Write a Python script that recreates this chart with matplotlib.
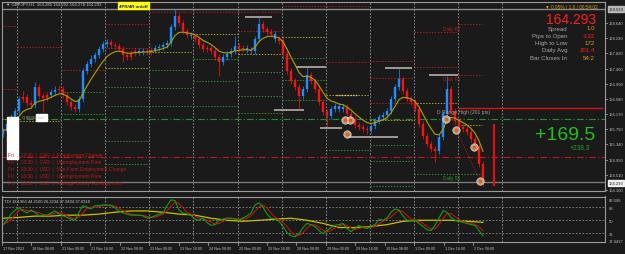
import numpy as np
import pandas as pd
import matplotlib
matplotlib.use("Agg")
import matplotlib.pyplot as plt

plt.rcParams["font.family"] = ["Liberation Sans", "DejaVu Sans"]

W, H = 625, 255
BG = "#1a1a1a"
PX_PER_BAR = 1.84

# price columns (each ~2 H1 bars)
closes = [165.71, 165.90, 166.09, 166.25, 166.58, 166.63, 166.47, 166.41, 166.90, 166.66,
          166.60, 166.68, 166.77, 166.82, 166.85, 166.68, 166.49, 166.35, 166.30, 166.58,
          167.34, 167.53, 167.66, 167.77, 167.93, 168.07, 168.12, 168.04, 168.02, 167.93,
          167.77, 167.72, 167.82, 167.88, 167.85, 167.88, 167.85, 167.91, 167.96, 167.99,
          168.04, 168.10, 168.53, 168.83, 168.64, 168.42, 168.31, 168.29, 168.21, 168.04,
          167.93, 167.96, 167.88, 167.72, 167.58, 167.72, 167.80, 167.88, 168.02, 167.93,
          167.96, 167.91, 167.88, 168.21, 168.61, 168.48, 168.40, 168.34, 168.21, 168.15,
          167.80, 167.34, 167.06, 166.90, 166.66, 166.85, 167.23, 167.06, 166.85, 166.49,
          166.22, 166.11, 166.30, 166.38, 166.30, 166.36, 166.17, 166.03, 165.87, 165.81,
          165.76, 165.73, 165.84, 165.98, 166.09, 166.14, 166.25, 166.58, 166.90, 167.12,
          166.79, 166.58, 166.49, 166.30, 165.90, 165.57, 165.35, 165.22, 165.16, 165.54,
          166.17, 166.85, 166.25, 165.98, 165.81, 165.76, 165.68, 165.49, 165.27, 164.81,
          164.29]
highs = [165.79, 165.98, 166.17, 166.33, 166.66, 166.79, 166.71, 166.55, 167.04, 166.98,
         166.74, 166.76, 166.85, 166.92, 166.96, 166.93, 166.76, 166.57, 166.43, 166.66,
         167.42, 167.61, 167.76, 167.85, 168.01, 168.15, 168.21, 168.20, 168.12, 168.10,
         168.01, 167.85, 167.90, 167.96, 167.96, 167.96, 167.96, 167.99, 168.04, 168.07,
         168.12, 168.18, 168.61, 169.02, 168.91, 168.72, 168.50, 168.39, 168.37, 168.29,
         168.12, 168.04, 168.04, 167.96, 167.80, 167.80, 167.88, 167.96, 168.29, 168.10,
         168.04, 168.04, 167.99, 168.29, 168.80, 168.69, 168.56, 168.48, 168.42, 168.29,
         168.23, 167.88, 167.42, 167.14, 166.98, 166.93, 167.44, 167.31, 167.14, 166.93,
         166.57, 166.30, 166.38, 166.46, 166.46, 166.44, 166.44, 166.25, 166.11, 165.95,
         165.89, 165.84, 165.92, 166.06, 166.17, 166.22, 166.33, 166.66, 166.98, 167.39,
         167.20, 166.87, 166.66, 166.57, 166.38, 165.98, 165.65, 165.43, 165.30, 165.62,
         166.25, 167.20, 166.93, 166.33, 166.06, 165.89, 165.84, 165.76, 165.57, 165.35,
         164.89]
lows = [165.55, 165.63, 165.82, 166.01, 166.17, 166.50, 166.39, 166.33, 166.33, 166.58,
        166.22, 166.52, 166.60, 166.69, 166.74, 166.60, 166.41, 166.27, 166.22, 166.22,
        166.50, 167.26, 167.45, 167.58, 167.69, 167.85, 167.99, 167.96, 167.94, 167.85,
        167.58, 167.64, 167.64, 167.74, 167.77, 167.77, 167.77, 167.77, 167.83, 167.88,
        167.91, 167.96, 168.02, 168.45, 168.56, 168.34, 168.23, 168.21, 168.13, 167.96,
        167.85, 167.85, 167.80, 167.64, 167.20, 167.50, 167.64, 167.72, 167.80, 167.85,
        167.85, 167.83, 167.80, 167.80, 168.13, 168.40, 168.32, 168.26, 168.13, 168.07,
        167.72, 167.26, 166.98, 166.82, 166.30, 166.58, 166.77, 166.98, 166.77, 166.41,
        166.14, 165.84, 166.03, 166.22, 166.22, 166.22, 166.09, 165.95, 165.79, 165.73,
        165.68, 165.62, 165.65, 165.76, 165.90, 166.01, 166.06, 166.17, 166.50, 166.82,
        166.71, 166.50, 166.41, 166.22, 165.82, 165.49, 165.27, 165.14, 164.86, 165.08,
        165.46, 166.09, 166.17, 165.90, 165.73, 165.68, 165.60, 165.41, 165.19, 164.73,
        164.21]
first_open = 165.62
trend = ("11111 000 1 000 11 00000 11111111 0000000 11 00 111111 000 1 0000000 1111 00 "
         "1111 000 1 000000 11 00000 1111 000000 11111111 000000000 111 000000000")
trend_up = [c == "1" for c in trend.replace(" ", "")]

# TDI (green price line per column, yellow base line every 4 columns)
tdi_green = [44, 50, 58.5, 64, 67, 63, 60, 64, 61, 56, 57, 57, 60, 63, 58.5, 56, 54, 51.5, 50, 61,
             70, 68, 65.5, 70, 70, 71, 71, 70, 67, 63, 60, 58.5, 57, 57, 57, 56, 53, 54, 56, 58.5,
             60, 70, 78, 77, 64, 60, 58.5, 57, 51.5, 50, 53, 47, 43, 44, 50, 51.5, 53, 53, 51.5, 50,
             53, 56, 60, 71, 74, 68, 58.5, 53, 51.5, 48.5, 41.5, 33, 28.7, 27.3, 31.6, 40, 45.7, 44,
             41.5, 36, 31.6, 36, 40, 43, 44, 45.7, 38.7, 34.4, 38.7, 43, 40, 38.7, 41.5, 44, 51.5,
             50, 53, 61, 65.5, 64, 56, 50, 50, 50, 45.7, 41.5, 37, 35.8, 43, 53, 63, 61, 54, 50,
             48.5, 47, 45.7, 44, 43, 36, 28.7]
tdi_yellow = [52.8, 54, 55.7, 55.7, 57, 57, 58.5, 61, 62.8, 62.8, 61, 58.5, 57, 52.8, 50, 48.6,
              50, 51.5, 52.8, 50, 45.7, 40, 40, 41.5, 44, 48.6, 50, 50, 50, 48.6, 47.1]

# daily pivot levels: day index, price, kind
day_start = [0, 8, 32, 56, 80, 104, 128, 152, 176, 200, 224, 248]
day_end = [8, 32, 56, 80, 104, 128, 152, 176, 200, 224, 248, 261]
piv_day = [0, 0, 1, 1, 2, 2, 2, 3, 3, 3, 3, 3, 3, 3, 4, 4, 4, 4, 4, 5, 5, 5, 5, 5,
           6, 6, 6, 6, 6, 6, 7, 7, 7, 7, 7, 8, 8, 8, 8, 8, 9, 9, 9, 9, 9, 9, 9,
           10, 10, 10, 10, 11, 11, 11, 11]
piv_price = [168.56, 166.85, 167.99, 165.98, 167.36, 166.76, 166.17, 168.61, 167.96, 167.42, 166.90, 166.38, 165.43, 164.81,
             168.94, 167.85, 167.36, 166.87, 166.38,
             168.94, 168.34, 167.66, 167.06, 166.38,
             168.94, 168.42, 167.80, 167.31, 166.66, 166.19,
             169.10, 168.26, 167.69, 167.09, 166.55,
             169.10, 167.58, 166.68, 165.19, 164.32,
             167.61, 167.15, 166.47, 166.00, 165.33, 164.89, 164.21,
             168.39, 167.44, 166.47, 164.54,
             168.61, 167.23, 165.87, 164.54]
piv_kind = ["r", "r", "r", "y", "r", "g", "g", "r", "r", "y", "g", "g", "g", "g",
            "r", "y", "g", "g", "g",
            "r", "y", "g", "g", "g",
            "r", "r", "y", "g", "g", "g",
            "r", "y", "g", "g", "g",
            "r", "r", "y", "g", "g",
            "r", "r", "r", "y", "g", "g", "g",
            "r", "r", "y", "g",
            "r", "r", "y", "g"]

# swing high/low marks (bar start, bar end, price)
swing_x0 = [132, 148, 160, 173, 188, 208, 232]
swing_x1 = [147, 164, 176, 185, 215, 223, 248]
swing_p = [168.80, 166.28, 167.44, 165.80, 165.54, 167.42, 167.23]

# trade circles
mark_x = [186.4, 189.1, 187.5, 241.3, 246.7, 256.5, 259.8]
mark_p = [166.00, 166.00, 165.62, 166.03, 165.73, 165.27, 164.35]

axis_prices = [168.640, 168.230, 167.820, 167.400, 166.990, 166.580, 166.170,
               165.750, 165.340, 164.930, 164.510, 164.100]
date_labels = ["17 Nov 2022", "18 Nov 08:00", "21 Nov 00:00", "21 Nov 16:00", "22 Nov 08:00",
               "23 Nov 00:00", "23 Nov 16:00", "24 Nov 08:00", "25 Nov 00:00", "25 Nov 16:00",
               "28 Nov 08:00", "29 Nov 00:00", "29 Nov 16:00", "30 Nov 08:00", "1 Dec 00:00",
               "1 Dec 16:00", "2 Dec 08:00"]
news = ["Fri  :  13:30  |  CAD  |  Employment Change",
        "Fri  :  13:30  |  CAD  |  Unemployment Rate",
        "Fri  :  13:30  |  USD  |  Non-Farm Employment Change",
        "Fri  :  13:30  |  USD  |  Unemployment Rate",
        "Fri  :  13:30  |  USD  |  Average Hourly Earnings m/m"]
info_names = ["Spread", "Pips to Open", "High to Low", "Daily Avg", "Bar Closes In"]
info_vals = ["1.0", "-132", "172", "201.4", "54:2"]
info_cols = ["#e0a000", "#ff2020", "#e0a000", "#ff2020", "#e0a000"]

n = len(closes)
col_x = (1 + 4 * np.arange(n)) / PX_PER_BAR
opens = [first_open] + closes[:-1]
ma = pd.Series(closes).ewm(span=7, adjust=False).mean()

fig = plt.figure(figsize=(W / 100, H / 100), dpi=100)
fig.patch.set_facecolor(BG)


def px_rect(x0, y0, x1, y1):
    return [x0 / W, 1 - y1 / H, (x1 - x0) / W, (y1 - y0) / H]


ax = fig.add_axes(px_rect(2, 3, 605, 192))
ax.set_facecolor(BG)
ymin = 169.292 - 0.02717 * 192
ymax = 169.292 - 0.02717 * 3
ax.set_xlim(0, 603 / PX_PER_BAR)
ax.set_ylim(ymin, ymax)
for s in ax.spines.values():
    s.set_color("#9a9a9a")
    s.set_linewidth(0.8)
ax.set_xticks([])
ax.set_yticks([])

for d in range(12):
    ax.axvline(8 + 24 * d, color="#9a9a9a", lw=0.6, ls=(0, (2, 2)), zorder=1)

kind_col = {"r": "#b01818", "y": "#a8a020", "g": "#2a8a2a"}
for d, p, k in zip(piv_day, piv_price, piv_kind):
    ax.hlines(p, day_start[d], day_end[d], color=kind_col[k], lw=0.7, ls=(0, (1.5, 1.5)), zorder=1)

ax.axhline(166.03, color="#20902a", lw=0.8, ls=(0, (6, 2, 1, 2)), zorder=1)
ax.axhline(165.00, color="#c01818", lw=0.8, ls=(0, (6, 2, 1, 2)), zorder=1)
ax.axhline(169.03, color="#8a8a8a", lw=1.0, zorder=1)
ax.axhline(164.32, color="#7a7a7a", lw=1.0, zorder=1)

ax.hlines(swing_p, swing_x0, swing_x1, color="#b8b0a8", lw=1.2, zorder=3)
ax.hlines(166.68, 181.5, 193, color="#d8c8a0", lw=1.0, ls=(0, (1, 1)), zorder=3)
ax.hlines(166.33, 247.8, 326.6, color="#e01010", lw=1.0, zorder=3)
ax.plot([241.8, 258.7], [166.30, 164.46], color="#c01818", lw=0.7, ls=(0, (1, 1.5)), zorder=3)
ax.vlines(267.4, 164.21, 165.90, color="#e01010", lw=1.6, zorder=3)

for x, o, c, hi, lo, up in zip(col_x, opens, closes, highs, lows, trend_up):
    col = "#1e8fff" if up else "#ff1010"
    ax.vlines(x, lo, hi, color=col, lw=0.5, zorder=4)
    b0, b1 = min(o, c), max(o, c)
    if b1 - b0 < 0.03:
        b1 = b0 + 0.03
    ax.vlines(x, b0, b1, color=col, lw=1.7, zorder=4)
ax.plot(col_x, ma, color="#b0a000", lw=0.8, zorder=5)

ax.scatter(mark_x, mark_p, s=30, facecolor="#d8c8b0", edgecolor="#f0e8e0", lw=0.4, alpha=0.8, zorder=6)
ax.scatter(mark_x, mark_p, s=3, color="#e06010", zorder=7)

# white labels at left
ax.add_patch(plt.Rectangle((5 / PX_PER_BAR, 164.95), 11 / PX_PER_BAR, 1.14, color="white", zorder=6))
ax.add_patch(plt.Rectangle((34 / PX_PER_BAR, 165.98), 11 / PX_PER_BAR, 0.20, color="white", zorder=6))

# indicator panel
ax2 = fig.add_axes(px_rect(2, 197.5, 605, 243))
ax2.set_facecolor(BG)
ax2.set_xlim(0, 603 / PX_PER_BAR)
ax2.set_ylim(20.2, 82.6)
for s in ax2.spines.values():
    s.set_color("#9a9a9a")
    s.set_linewidth(0.8)
ax2.set_xticks([])
ax2.set_yticks([])
for d in range(12):
    ax2.axvline(8 + 24 * d, color="#9a9a9a", lw=0.6, ls=(0, (2, 2)))
for lv in [68, 50, 32]:
    ax2.axhline(lv, color="#8a8a8a", lw=0.6, ls=(0, (2, 2)))
green = pd.Series(tdi_green)
ax2.plot(col_x[::4], tdi_yellow, color="#c8c000", lw=0.9)
ax2.plot(col_x, green.rolling(3, min_periods=1).mean(), color="#c81010", lw=0.8)
ax2.plot(col_x, green, color="#10a010", lw=0.8)


def ftext(x, y, s, **kw):
    fig.text(x / W, 1 - y / H, s, va="center", **kw)


ftext(6, 5, "\u25bc GBPJPY,H1  164.285 164.292 164.278 164.293", color="#c8c8c8", fontsize=3.1)
fig.text(119 / W, 1 - 6.5 / H, "4PR/4R on/off", color="#1010c0", fontsize=3.2, va="center",
         fontweight="bold", bbox=dict(boxstyle="square,pad=0.3", fc="#ffff00", ec="#ffff00"))
ftext(598, 7, "\u25bc 0.95% / 1.0 / 00:54:02", color="#e0a000", fontsize=3.4, ha="right")
ftext(596, 20, "164.293", color="#ff2020", fontsize=10, ha="right")
for k, (nm, v, c) in enumerate(zip(info_names, info_vals, info_cols)):
    yy = 29 + k * 7.3
    ftext(567, yy, nm, color="#a8a8a8", fontsize=4.4, ha="right")
    ftext(595, yy, v, color=c, fontsize=4.4, ha="right")
ftext(595, 135, "+169.5", color="#20c020", fontsize=14, ha="right")
ftext(590, 149, "+238.3", color="#20a020", fontsize=4.8, ha="right")

ftext(443, 29, "Daily R2", color="#c01818", fontsize=3.3)
ftext(443, 79, "Daily R1", color="#c01818", fontsize=3.3)
ftext(443, 179, "Daily S1", color="#20a020", fontsize=3.3)
ftext(437, 113, "D Range High (201 pts)", color="#a0a0a0", fontsize=3.6)
ftext(9, 118, "#          0.06362 sell", color="#b0b0b0", fontsize=3.0)

for k, line in enumerate(news):
    ftext(8, 156 + k * 6.8, line, color="#c01818", fontsize=3.5)

ftext(4, 202, "TDI 18.1966 44.2100 26.2234 37.9404 37.6318", color="#c8c8c8", fontsize=3.0)

# right price scale
for p in axis_prices:
    yy = (169.292 - p) / 0.02717
    ftext(609, yy, f"{p:.3f}", color="#c0c0c0", fontsize=3.0)
    fig.add_artist(plt.Line2D([605 / W, 607 / W], [1 - yy / H] * 2, color="#9a9a9a", lw=0.6))
ftext(608.5, 10, "169.019", color="#202020", fontsize=3.0,
      bbox=dict(boxstyle="square,pad=0.2", fc="#b8b8b8", ec="#b8b8b8"))
ftext(608.5, 184, "164.293", color="#202020", fontsize=3.0,
      bbox=dict(boxstyle="square,pad=0.2", fc="#f0f0f0", ec="#f0f0f0"))
for v, yy in [("82.096", 201), ("68", 209), ("50", 222), ("32", 235), ("17.4417", 242)]:
    ftext(609, yy, v, color="#c0c0c0", fontsize=3.0)

# date scale
for k, lab in enumerate(date_labels):
    h = 16 * k
    xx = 2 + h * PX_PER_BAR
    fig.add_artist(plt.Line2D([xx / W] * 2, [1 - 243 / H, 1 - 246 / H], color="#9a9a9a", lw=0.6))
    ftext(xx + 1, 249, lab, color="#c0c0c0", fontsize=2.7)

fig.savefig("out.png", dpi=100, facecolor=BG)
